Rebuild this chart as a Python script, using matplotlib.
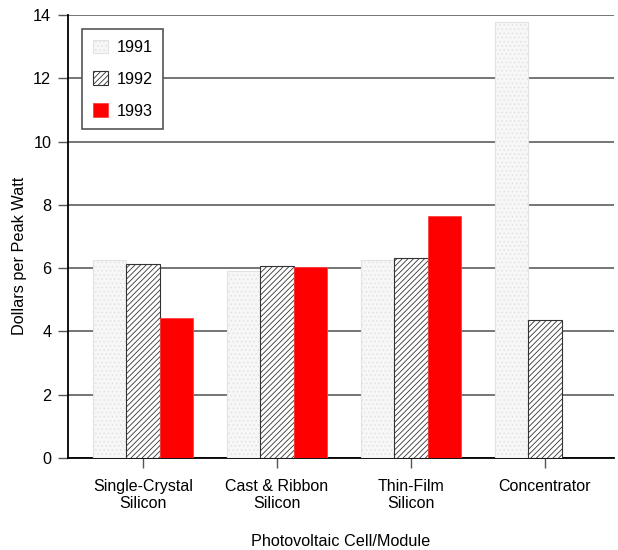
import matplotlib
matplotlib.use("Agg")
from matplotlib import pyplot as plt
import numpy as np

plt.rcParams['font.family'] = ['Liberation Sans', 'DejaVu Sans']
plt.rcParams['hatch.linewidth'] = 0.6

categories = ["Single-Crystal\nSilicon", "Cast & Ribbon\nSilicon", "Thin-Film\nSilicon", "Concentrator"]
years = ["1991", "1992", "1993"]
v1991 = [6.27, 5.92, 6.27, 13.77]
v1992 = [6.14, 6.07, 6.33, 4.37]
v1993 = [4.43, 6.04, 7.66, np.nan]

fig = plt.figure(figsize=(6.18, 5.5), dpi=100)
ax = fig.add_axes([0.110, 0.1673, 0.8835, 0.8054])

x = np.arange(len(categories))
w = 0.25

ax.bar(x - w, v1991, w, facecolor='#f7f7f7', edgecolor='#e2e2e2', hatch='....',
       linewidth=0.8, label=years[0], zorder=3)
ax.bar(x, v1992, w, facecolor='white', edgecolor='#333333', hatch='//////',
       linewidth=0.8, label=years[1], zorder=3)
ax.bar(x + w, v1993, w, facecolor='#ff0000', edgecolor='#ff4040',
       linewidth=0.6, label=years[2], zorder=3)

ax.set_xlim(-0.56, 3.515)
ax.set_ylim(0, 14)
ax.set_yticks(range(0, 15, 2))
ax.set_xticks(x)
ax.set_xticklabels(categories, fontsize=11.5, linespacing=1.15)
ax.tick_params(axis='y', labelsize=11.7, direction='out', length=7, width=1, pad=5, color='#555555')
ax.tick_params(axis='x', direction='out', length=7, width=1, pad=8, color='#555555')

ax.yaxis.grid(True, color='#6a6a6a', linewidth=1.3)
ax.set_axisbelow(True)
for s in ['top', 'right']:
    ax.spines[s].set_visible(False)
ax.spines['left'].set_linewidth(1.3)
ax.spines['bottom'].set_linewidth(1.3)

ax.set_ylabel("Dollars per Peak Watt", fontsize=11.7)
ax.yaxis.set_label_coords(-0.075, 0.456)
ax.set_xlabel("Photovoltaic Cell/Module", fontsize=11.7)
ax.xaxis.set_label_coords(0.5, -0.172)

leg = ax.legend(loc='upper left', bbox_to_anchor=(0.026, 0.968), borderaxespad=0,
                fontsize=11.7, handlelength=0.92, handleheight=0.92, handletextpad=0.55,
                labelspacing=1.0, borderpad=0.65, fancybox=False, framealpha=1)
leg.get_frame().set_edgecolor('#555555')
leg.get_frame().set_linewidth(1.2)

fig.savefig("out.png", dpi=100)
